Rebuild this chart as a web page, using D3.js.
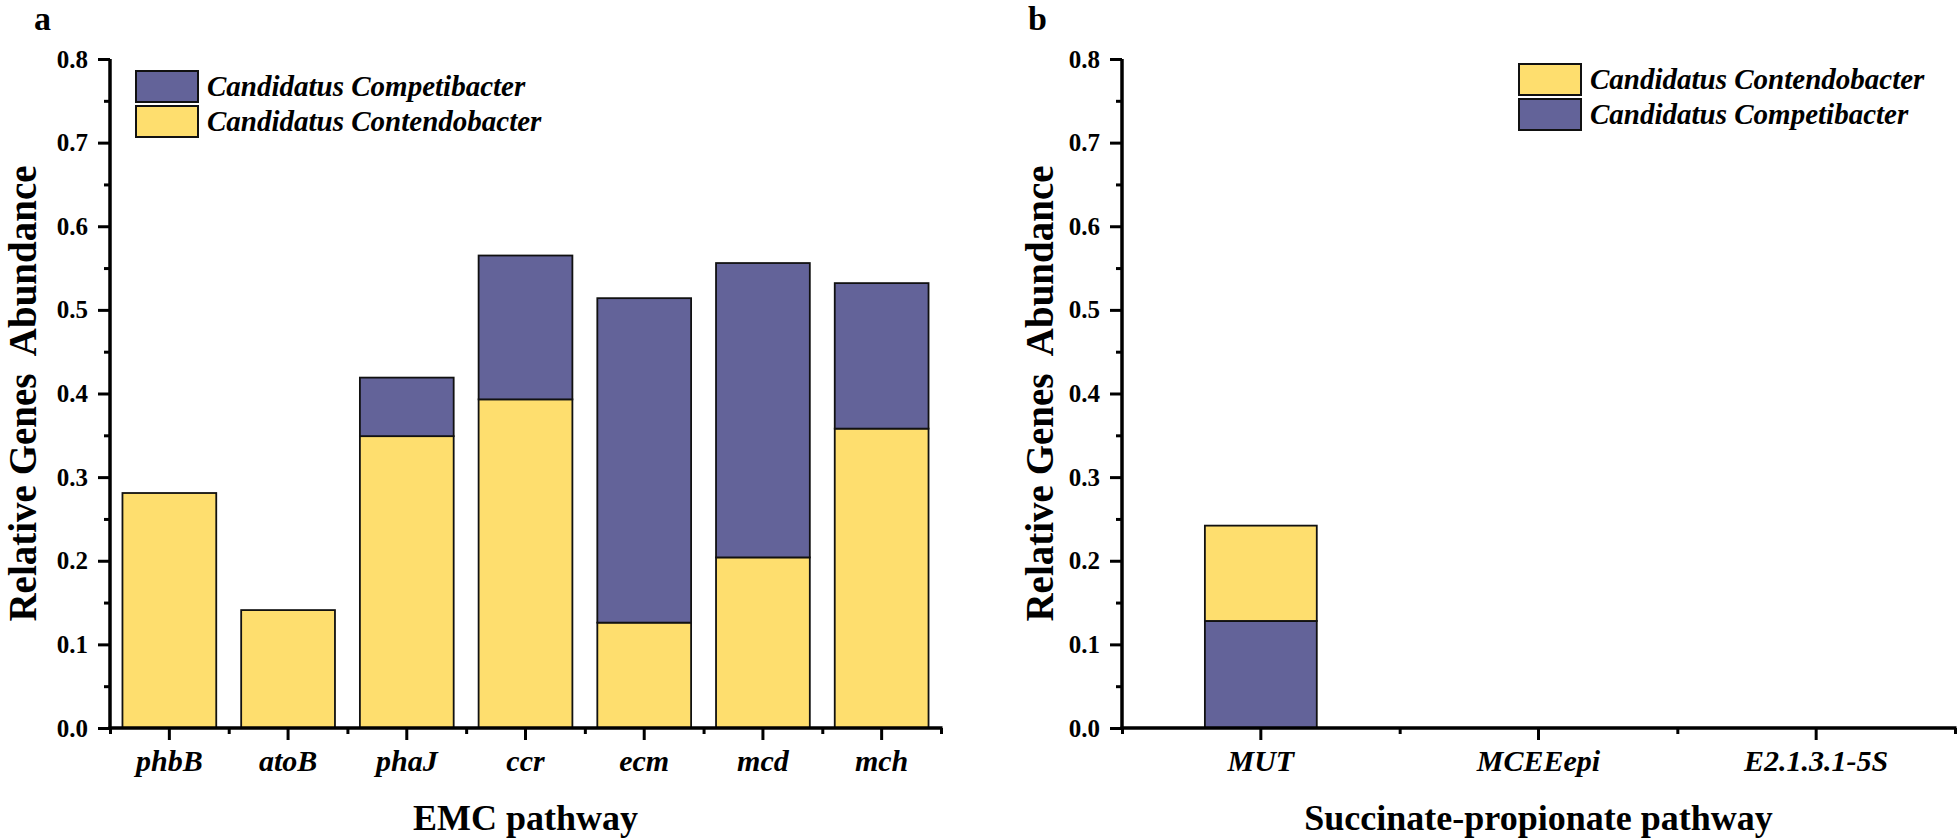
<!DOCTYPE html>
<html>
<head>
<meta charset="utf-8">
<script src="https://cdn.jsdelivr.net/npm/d3@7"></script>
<style>
  html, body { margin: 0; padding: 0; background: #ffffff; }
  svg { display: block; }
  text { font-family: "Liberation Serif", "Times New Roman", serif; }
</style>
</head>
<body>
<svg id="chart" width="1960" height="840"></svg>
<script>
// ---------- data ----------
const emcGenes = ["phbB", "atoB", "phaJ", "ccr", "ecm", "mcd", "mch"];
const emcContendobacter = [0.281, 0.141, 0.349, 0.393, 0.126, 0.204, 0.358];
const emcCompetibacter  = [0.000, 0.000, 0.070, 0.172, 0.388, 0.352, 0.174];

const spGenes = ["MUT", "MCEEepi", "E2.1.3.1-5S"];
const spContendobacter = [0.114, 0, 0];
const spCompetibacter  = [0.128, 0, 0];

const yMajorTicks = [0, 0.1, 0.2, 0.3, 0.4, 0.5, 0.6, 0.7, 0.8];
const yMinorTicks = [0.05, 0.15, 0.25, 0.35, 0.45, 0.55, 0.65, 0.75];

const seriesNames = { cont: "Candidatus Contendobacter", comp: "Candidatus Competibacter" };
const colors = { cont: "#fede6e", comp: "#636399" };

// ---------- drawing ----------
const svg = d3.select("#chart");

function panel(opts) {
  const { genes, cont, comp, left, right, top, bottom, barFrac, order, title, xTitle, legendX, legendY, legendOrder, yTitleX, labelX } = opts;
  const g = svg.append("g");
  const y = d3.scaleLinear().domain([0, 0.8]).range([bottom, top]);
  const x = d3.scaleBand().domain(genes).range([left, right])
    .paddingInner(1 - barFrac).paddingOuter((1 - barFrac) / 2);
  const xIdx = d3.scaleLinear().domain([0, genes.length]).range([left, right]);

  const rows = genes.map((gname, i) => ({ gene: gname, cont: cont[i], comp: comp[i] }));
  const stacked = d3.stack().keys(order)(rows);

  stacked.forEach(layer => {
    g.append("g").selectAll("rect").data(layer.filter(d => d[1] - d[0] > 0)).join("rect")
      .attr("x", d => x(d.data.gene))
      .attr("width", x.bandwidth())
      .attr("y", d => y(d[1]))
      .attr("height", d => y(d[0]) - y(d[1]))
      .attr("fill", colors[layer.key])
      .attr("stroke", "#111")
      .attr("stroke-width", 1.8);
  });

  // Y axis
  const yAxis = g.append("g").attr("transform", `translate(${left},0)`)
    .call(d3.axisLeft(y).tickValues(yMajorTicks).tickFormat(d3.format(".1f")).tickSize(12).tickPadding(10));
  g.append("g").attr("transform", `translate(${left},0)`)
    .call(d3.axisLeft(y).tickValues(yMinorTicks).tickFormat("").tickSize(6))
    .select(".domain").remove();

  // X axis
  const xAxis = g.append("g").attr("transform", `translate(0,${bottom})`)
    .call(d3.axisBottom(x).tickSize(12).tickPadding(10).tickSizeOuter(0));
  g.append("g").attr("transform", `translate(0,${bottom})`)
    .call(d3.axisBottom(xIdx).tickValues(d3.range(genes.length + 1)).tickFormat("").tickSize(6))
    .select(".domain").remove();

  g.selectAll(".domain").attr("stroke", "#000").attr("stroke-width", 3.5);
  g.selectAll(".tick line").attr("stroke", "#000").attr("stroke-width", 3);
  yAxis.selectAll(".domain").attr("d", `M0,${top}V${bottom + 1.5}`);
  xAxis.select(".domain").attr("d", `M${left - 1.5},0H${right + 1.5}`);

  yAxis.selectAll("text").attr("font-size", 25).attr("font-weight", "bold").attr("fill", "#000")
    .attr("font-family", "Liberation Serif");
  xAxis.selectAll("text").attr("font-size", 30).attr("font-weight", "bold").attr("font-style", "italic")
    .attr("fill", "#000").attr("font-family", "Liberation Serif");

  // Axis titles
  g.append("text").attr("x", (left + right) / 2).attr("y", 830)
    .attr("text-anchor", "middle").attr("font-size", 36).attr("font-weight", "bold").text(xTitle);
  g.append("text").attr("transform", `translate(${yTitleX},${(top + bottom) / 2}) rotate(-90)`)
    .attr("text-anchor", "middle").attr("font-size", 39).attr("font-weight", "bold")
    .attr("xml:space", "preserve").style("white-space", "pre")
    .text("Relative Genes  Abundance");

  // Panel label
  g.append("text").attr("x", labelX).attr("y", 30).attr("font-size", 34).attr("font-weight", "bold").text(title);

  // Legend
  legendOrder.forEach((key, i) => {
    const ly = legendY + i * 35;
    g.append("rect").attr("x", legendX).attr("y", ly).attr("width", 62).attr("height", 31)
      .attr("fill", colors[key]).attr("stroke", "#111").attr("stroke-width", 2);
    g.append("text").attr("x", legendX + 71).attr("y", ly + 25)
      .attr("font-size", 29).attr("font-weight", "bold").attr("font-style", "italic")
      .text(seriesNames[key]);
  });
}

panel({
  genes: emcGenes, cont: emcContendobacter, comp: emcCompetibacter,
  left: 110, right: 941, top: 59, bottom: 728, barFrac: 0.79,
  order: ["cont", "comp"], title: "a", xTitle: "EMC pathway",
  legendX: 136, legendY: 71, legendOrder: ["comp", "cont"], yTitleX: 36, labelX: 34
});

panel({
  genes: spGenes, cont: spContendobacter, comp: spCompetibacter,
  left: 1122, right: 1955, top: 59, bottom: 728, barFrac: 0.403,
  order: ["comp", "cont"], title: "b", xTitle: "Succinate-propionate pathway",
  legendX: 1519, legendY: 64, legendOrder: ["cont", "comp"], yTitleX: 1053, labelX: 1028
});
</script>
</body>
</html>
